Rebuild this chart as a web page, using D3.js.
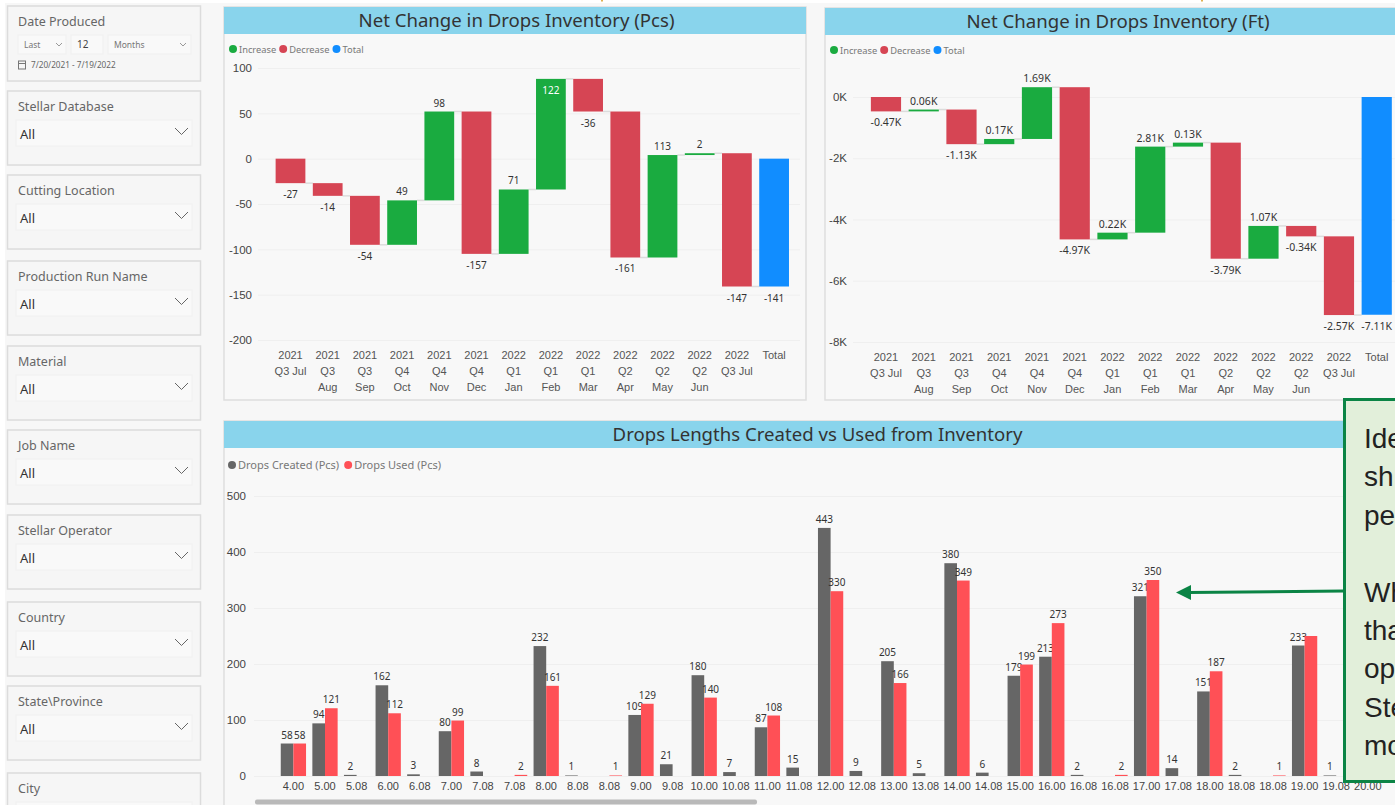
<!DOCTYPE html>
<html>
<head>
<meta charset="utf-8">
<script src="https://cdn.jsdelivr.net/npm/d3@7"></script>
<style>
html, body { margin: 0; padding: 0; background: #fff; overflow: hidden; }
svg { display: block; font-family: "Noto Sans", "Open Sans", sans-serif; }
.domain { display: none; }
</style>
</head>
<body>
<div id="graphicContainer"></div>
<script>
// waterfall data
var pcsCategories = ["2021|Q3 Jul", "2021|Q3|Aug", "2021|Q3|Sep", "2021|Q4|Oct", "2021|Q4|Nov", "2021|Q4|Dec", "2022|Q1|Jan", "2022|Q1|Feb", "2022|Q1|Mar", "2022|Q2|Apr", "2022|Q2|May", "2022|Q2|Jun", "2022|Q3 Jul", "Total"]
var pcsChange = [-27, -14, -54, 49, 98, -157, 71, 122, -36, -161, 113, 2, -147]
var pcsTotal = -141
var pcsTicks = [100, 50, 0, -50, -100, -150, -200]

var ftChange = [-0.47, 0.06, -1.13, 0.17, 1.69, -4.97, 0.22, 2.81, 0.13, -3.79, 1.07, -0.34, -2.57]
var ftTotal = -7.11
var ftTicks = [0, -2, -4, -6, -8]

// bottom chart data, null = no bar
var lengthLabels = ["4.00", "5.00", "5.08", "6.00", "6.08", "7.00", "7.08", "7.08", "8.00", "8.08", "8.08", "9.00", "9.08", "10.00", "10.08", "11.00", "11.08", "12.00", "12.08", "13.00", "13.08", "14.00", "14.08", "15.00", "16.00", "16.08", "16.08", "17.00", "17.08", "18.00", "18.08", "18.08", "19.00", "19.08", "20.00"]
var dropsCreated = [58, 94, 2, 162, 3, 80, 8, null, 232, 1, null, 109, 21, 180, 7, 87, 15, 443, 9, 205, 5, 380, 6, 179, 213, 2, null, 321, 14, 151, 2, null, 233, 1, null]
var dropsUsed = [58, 121, null, 112, null, 99, null, 2, 161, null, 1, 129, null, 140, null, 108, null, 330, null, 166, null, 349, null, 199, 273, null, 2, 350, null, 187, null, 1, 250, null, null]
var lengthTicks = [0, 100, 200, 300, 400, 500]

var slicerNames = ["Stellar Database", "Cutting Location", "Production Run Name", "Material", "Job Name", "Stellar Operator", "Country", "State\\Province", "City"]
var slicerTops = [91, 175, 261, 346, 430, 515, 602, 686, 773]

var calloutLines = ["Ide", "sh", "pe", "", "Wh", "tha", "op", "Ste", "mo"]

var colors = { increase: "#1aab40", decrease: "#d64554", total: "#118dff", created: "#666666", used: "#ff5056", header: "#89d4ec", green: "#0b8445" }

var svg = d3.select("#graphicContainer").append("svg")
	.attr("width", 1395)
	.attr("height", 805)

svg.append("rect").attr("x", 5).attr("y", 3).attr("width", 1390).attr("height", 802).attr("fill", "#f7f7f7")

// little marks at the top edge of the screenshot
svg.selectAll(".topMark").data([601, 1201]).enter().append("rect")
	.attr("x", d => d).attr("y", 0).attr("width", 2).attr("height", 1.5).attr("fill", "#e0b050")

function panel(x, y, w, h, title, titleX) {
	svg.append("rect").attr("x", x).attr("y", y).attr("width", w).attr("height", h)
		.attr("fill", "#f8f8f8").attr("stroke", "#dedede").attr("stroke-width", 1.5)
	svg.append("rect").attr("x", x).attr("y", y).attr("width", w).attr("height", 27).attr("fill", colors.header)
	svg.append("text").attr("x", titleX).attr("y", y + 20).attr("text-anchor", "middle")
		.attr("font-size", 18.6).attr("fill", "#333").text(title)
}

function legend(x, y, items, size, gap) {
	var cx = x
	items.forEach(function(d) {
		svg.append("circle").attr("cx", cx + 4).attr("cy", y).attr("r", 4).attr("fill", d.color)
		var t = svg.append("text").attr("x", cx + 10).attr("y", y + 3.5).attr("font-size", size).attr("fill", "#777").text(d.name)
		cx += 10 + t.node().getComputedTextLength() + gap
	})
}

function waterfall(o) {
	var n = o.change.length
	var cum = d3.cumsum(o.change)

	var x = d3.scaleBand().domain(d3.range(n + 1)).range(o.xRange).paddingInner(0.2).paddingOuter(0.1)
	var y = d3.scaleLinear().domain(o.domain).range(o.yRange)

	var g = svg.append("g")

	var yAxis = d3.axisLeft(y).tickValues(o.ticks).tickSize(o.gridRight - o.axisX).tickPadding(6).tickFormat(o.tickFormat)
	g.append("g").attr("transform", "translate(" + o.gridRight + ",0)").call(yAxis)
		.call(a => a.selectAll("line").attr("stroke", "#efefef"))
		.call(a => a.selectAll("text").attr("font-size", 11.5).attr("fill", "#444"))

	var xAxis = d3.axisBottom(x).tickSize(0).tickFormat(i => o.categories[i])
	g.append("g").attr("transform", "translate(0," + o.labelY + ")").call(xAxis)
		.selectAll("text")
		.attr("font-size", 11).attr("fill", "#555")
		.each(function(d) {
			var t = d3.select(this), parts = o.categories[d].split("|")
			t.text(null)
			parts.forEach(function(p, i) {
				t.append("tspan").attr("x", 0).attr("dy", i ? 16 : 0).text(p)
			})
		})

	var bars = o.change.map(function(d, i) {
		return { i: i, value: d, from: i ? cum[i - 1] : 0, to: cum[i], kind: d < 0 ? "decrease" : "increase" }
	})
	bars.push({ i: n, value: o.total, from: 0, to: o.total, kind: "total" })

	// connectors
	g.selectAll(".connector").data(bars.slice(0, n)).enter().append("line")
		.attr("x1", d => x(d.i) + x.bandwidth())
		.attr("x2", d => x(d.i + 1))
		.attr("y1", d => y(d.to)).attr("y2", d => y(d.to))
		.attr("stroke", "#dcdcdc").attr("stroke-width", 1.5)

	g.selectAll(".bar").data(bars).enter().append("rect")
		.attr("x", d => x(d.i))
		.attr("width", x.bandwidth())
		.attr("y", d => y(Math.max(d.from, d.to)))
		.attr("height", d => Math.abs(y(d.from) - y(d.to)))
		.attr("fill", d => colors[d.kind])

	g.selectAll(".val").data(bars).enter().append("text")
		.attr("x", d => x(d.i) + x.bandwidth() / 2)
		.attr("y", function(d) {
			if (d.value === o.insideValue) return y(Math.max(d.from, d.to)) + 15
			return d.value < 0 ? y(Math.min(d.from, d.to)) + 15 : y(Math.max(d.from, d.to)) - 5
		})
		.attr("text-anchor", "middle").attr("font-size", o.valueSize)
		.attr("fill", d => d.value === o.insideValue ? "#fff" : "#333")
		.text(d => o.format(d.value))
}

panel(224, 7, 582, 393, "Net Change in Drops Inventory (Pcs)", 516.5)
legend(229, 49, [{ name: "Increase", color: colors.increase }, { name: "Decrease", color: colors.decrease }, { name: "Total", color: colors.total }], 9.3, 3)
waterfall({
	change: pcsChange, total: pcsTotal, categories: pcsCategories, ticks: pcsTicks,
	domain: [-200, 100], yRange: [340, 68], xRange: [271.9, 792.7], gridRight: 800, axisX: 258, labelY: 356,
	tickFormat: d => d3.format("d")(d).replace("\u2212", "-"),
	format: d => String(d), insideValue: 122, valueSize: 10
})

panel(825, 8, 575, 392, "Net Change in Drops Inventory (Ft)", 1118)
legend(830, 50, [{ name: "Increase", color: colors.increase }, { name: "Decrease", color: colors.decrease }, { name: "Total", color: colors.total }], 9.3, 3)
waterfall({
	change: ftChange, total: ftTotal, categories: pcsCategories, ticks: ftTicks,
	domain: [-8, 0], yRange: [342, 97], xRange: [867.1, 1395.6], gridRight: 1395, axisX: 853, labelY: 358,
	tickFormat: d => d + "K",
	format: d => d.toFixed(2) + "K", insideValue: null, valueSize: 10.5
})

// bottom chart
panel(224, 421, 1180, 390, "Drops Lengths Created vs Used from Inventory", 817.5)
legend(228, 465, [{ name: "Drops Created (Pcs)", color: colors.created }, { name: "Drops Used (Pcs)", color: colors.used }], 11, 5)

var xLen = d3.scaleBand().domain(d3.range(lengthLabels.length)).range([277.6, 1383.6]).paddingInner(0.2).paddingOuter(0.1)
var yLen = d3.scaleLinear().domain([0, 500]).range([776, 496])
var xSub = d3.scaleBand().domain(["created", "used"]).range([0, xLen.bandwidth()])

svg.append("g").attr("transform", "translate(1395,0)")
	.call(d3.axisLeft(yLen).tickValues(lengthTicks).tickSize(1395 - 254).tickPadding(8))
	.call(a => a.selectAll("line").attr("stroke", "#efefef"))
	.call(a => a.selectAll("text").attr("font-size", 11.5).attr("fill", "#444"))

svg.append("g").attr("transform", "translate(0,779)")
	.call(d3.axisBottom(xLen).tickSize(0).tickPadding(3).tickFormat(i => lengthLabels[i]))
	.call(a => a.selectAll("text").attr("font-size", 11).attr("fill", "#444"))

function lengthSeries(values, key, color) {
	var rows = values.map((v, i) => ({ i: i, v: v })).filter(d => d.v !== null)
	svg.selectAll(".bar-" + key).data(rows).enter().append("rect")
		.attr("x", d => xLen(d.i) + xSub(key))
		.attr("width", xSub.bandwidth())
		.attr("y", d => yLen(d.v))
		.attr("height", d => yLen(0) - yLen(d.v))
		.attr("fill", color)
	// the label of the 19.00 used bar is not shown in the original
	svg.selectAll(".val-" + key).data(rows.filter(d => !(key == "used" && d.i == 32))).enter().append("text")
		.attr("x", d => xLen(d.i) + xSub(key) + xSub.bandwidth() / 2)
		.attr("y", d => yLen(d.v) - 5)
		.attr("text-anchor", "middle").attr("font-size", 10).attr("fill", "#333")
		.text(d => d.v)
}
lengthSeries(dropsCreated, "created", colors.created)
lengthSeries(dropsUsed, "used", colors.used)

// scrollbar
svg.append("rect").attr("x", 255).attr("y", 799.5).attr("width", 502).attr("height", 5).attr("rx", 2).attr("fill", "#b9b9b9")

// callout over the bottom chart
svg.append("rect").attr("x", 1344.5).attr("y", 399.5).attr("width", 60).attr("height", 382)
	.attr("fill", "#e2efda").attr("stroke", colors.green).attr("stroke-width", 3)
svg.selectAll(".callout").data(calloutLines).enter().append("text")
	.attr("x", 1364).attr("y", (d, i) => 448 + i * 38.4)
	.attr("font-family", "Liberation Sans").attr("font-size", 28).attr("fill", "#222")
	.text(d => d)
svg.append("line").attr("x1", 1344).attr("y1", 591).attr("x2", 1188).attr("y2", 592.5)
	.attr("stroke", colors.green).attr("stroke-width", 3)
svg.append("path").attr("d", "M1176,592.5L1191,585L1191,600Z").attr("fill", colors.green)

// slicers
function slicerBox(y, h, title) {
	svg.append("rect").attr("x", 7.5).attr("y", y).attr("width", 193).attr("height", h)
		.attr("fill", "#f6f6f6").attr("stroke", "#dcdcdc").attr("stroke-width", 1.5)
	svg.append("text").attr("x", 18).attr("y", y + 20).attr("font-size", 12.5).attr("fill", "#666").text(title)
}

slicerTops.forEach(function(top, i) {
	slicerBox(top, 74, slicerNames[i])
	svg.append("rect").attr("x", 16).attr("y", top + 29).attr("width", 176).attr("height", 26).attr("fill", "#f9f9f9").attr("stroke", "#f0f0f0")
	svg.append("text").attr("x", 20).attr("y", top + 48).attr("font-size", 13).attr("fill", "#333").text("All")
	svg.append("path").attr("d", "M175," + (top + 37) + "l6.5,6.5l6.5,-6.5").attr("fill", "none").attr("stroke", "#666")
})

slicerBox(6, 75, "Date Produced")
var dateBoxes = [[18, 48, "Last"], [71, 32, "12"], [108, 83, "Months"]]
dateBoxes.forEach(function(d) {
	svg.append("rect").attr("x", d[0]).attr("y", 35).attr("width", d[1]).attr("height", 19).attr("fill", "#f9f9f9").attr("stroke", "#efefef")
	svg.append("text").attr("x", d[0] + 6).attr("y", 47.5).attr("font-size", d[2] == "12" ? 10 : 8.5).attr("fill", d[2] == "12" ? "#444" : "#777").text(d[2])
})
svg.selectAll(".dateChevron").data([56, 180]).enter().append("path")
	.attr("d", d => "M" + d + ",43l3,3l3,-3").attr("fill", "none").attr("stroke", "#999")
svg.append("text").attr("x", 31).attr("y", 68).attr("font-size", 8.2).attr("fill", "#666").text("7/20/2021 - 7/19/2022")
svg.append("rect").attr("x", 18.5).attr("y", 61).attr("width", 7).attr("height", 8).attr("fill", "none").attr("stroke", "#777")
svg.append("line").attr("x1", 18.5).attr("x2", 25.5).attr("y1", 63.5).attr("y2", 63.5).attr("stroke", "#777")
</script>
</body>
</html>
